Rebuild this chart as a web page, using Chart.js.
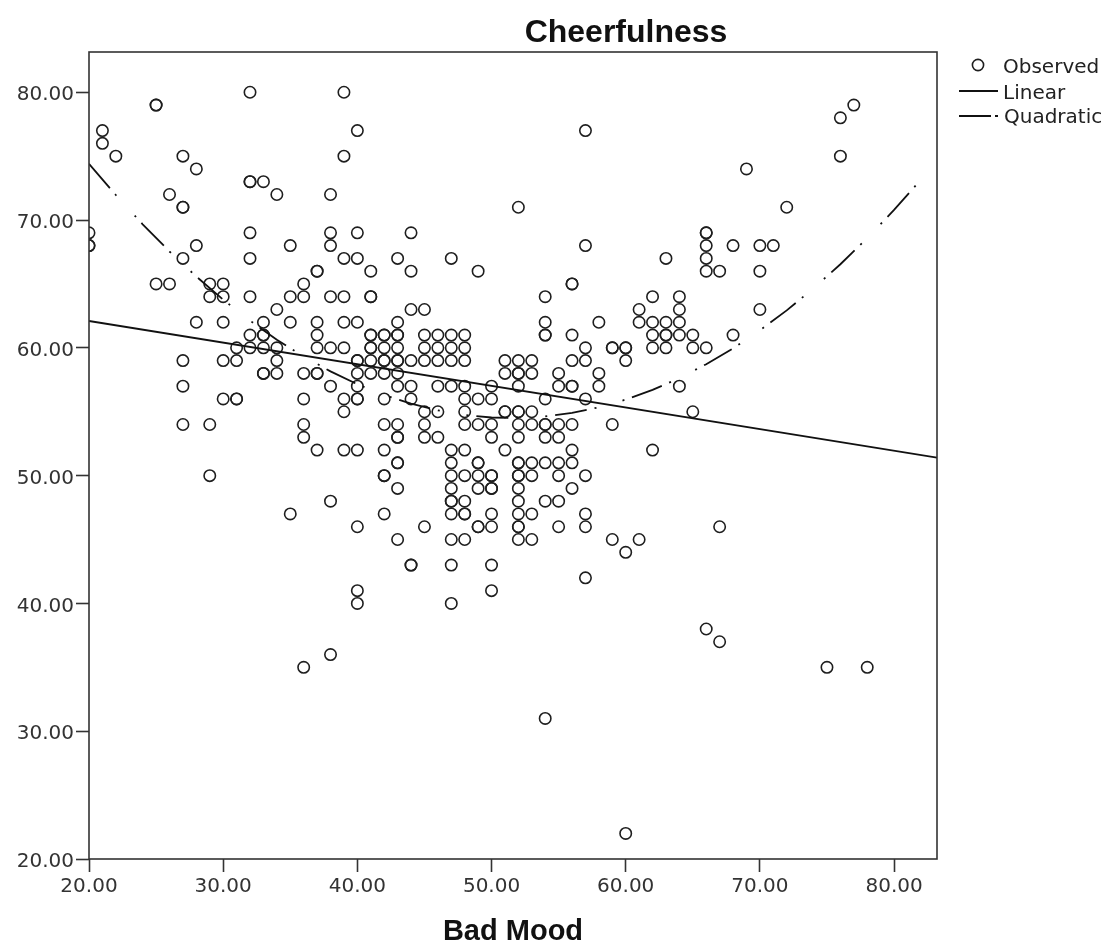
<!DOCTYPE html>
<html>
<head>
<meta charset="utf-8">
<title>Cheerfulness</title>
<script src="https://cdn.jsdelivr.net/npm/chart.js@4.4.1/dist/chart.umd.min.js"></script>
<style>
  html, body { margin: 0; padding: 0; background: #fff; }
  #wrap { width: 1110px; height: 946px; }
</style>
</head>
<body>
<div id="wrap"><canvas id="chart" width="1110" height="946"></canvas></div>
<script>
// observed cases: [Bad Mood, Cheerfulness], one line per Bad Mood score
const observed = [
  [20,69],[20,68],[20,68],
  [21,77],[21,76],
  [22,75],
  [25,79],[25,79],[25,65],
  [26,72],[26,65],
  [27,75],[27,71],[27,71],[27,67],[27,59],[27,57],[27,54],
  [28,74],[28,68],[28,62],
  [29,65],[29,64],[29,54],[29,50],
  [30,65],[30,64],[30,62],[30,59],[30,56],
  [31,60],[31,59],[31,56],[31,56],
  [32,80],[32,73],[32,73],[32,69],[32,67],[32,64],[32,61],[32,60],
  [33,73],[33,62],[33,61],[33,61],[33,60],[33,58],[33,58],
  [34,72],[34,63],[34,60],[34,59],[34,58],
  [35,68],[35,64],[35,62],[35,47],
  [36,65],[36,64],[36,58],[36,56],[36,54],[36,53],[36,35],
  [37,66],[37,66],[37,62],[37,61],[37,60],[37,58],[37,58],[37,52],
  [38,72],[38,69],[38,68],[38,64],[38,60],[38,57],[38,48],[38,36],
  [39,80],[39,75],[39,67],[39,64],[39,62],[39,60],[39,56],[39,55],[39,52],
  [40,77],[40,69],[40,67],[40,62],[40,59],[40,59],[40,58],[40,57],[40,56],[40,56],[40,52],[40,46],[40,41],[40,40],
  [41,66],[41,64],[41,64],[41,61],[41,61],[41,60],[41,60],[41,59],[41,58],
  [42,61],[42,61],[42,60],[42,59],[42,59],[42,58],[42,56],[42,54],[42,52],[42,50],[42,50],[42,47],
  [43,67],[43,62],[43,61],[43,61],[43,60],[43,59],[43,59],[43,58],[43,57],[43,54],[43,53],[43,53],[43,51],[43,51],[43,49],[43,45],
  [44,69],[44,66],[44,63],[44,59],[44,57],[44,56],[44,43],[44,43],
  [45,63],[45,61],[45,60],[45,59],[45,55],[45,54],[45,53],[45,46],
  [46,61],[46,60],[46,59],[46,57],[46,55],[46,53],
  [47,67],[47,61],[47,60],[47,59],[47,57],[47,52],[47,51],[47,50],[47,49],[47,48],[47,48],[47,47],[47,45],[47,43],[47,40],
  [48,61],[48,60],[48,59],[48,57],[48,56],[48,55],[48,54],[48,52],[48,50],[48,48],[48,47],[48,47],[48,45],
  [49,66],[49,56],[49,54],[49,51],[49,51],[49,50],[49,49],[49,46],[49,46],
  [50,57],[50,56],[50,54],[50,53],[50,50],[50,50],[50,49],[50,49],[50,47],[50,46],[50,43],[50,41],
  [51,59],[51,58],[51,55],[51,55],[51,52],
  [52,71],[52,59],[52,58],[52,58],[52,57],[52,55],[52,55],[52,54],[52,53],[52,51],[52,51],[52,50],[52,50],[52,49],[52,48],[52,47],[52,46],[52,46],[52,45],
  [53,59],[53,58],[53,55],[53,54],[53,51],[53,50],[53,47],[53,45],
  [54,64],[54,62],[54,61],[54,61],[54,56],[54,54],[54,54],[54,53],[54,51],[54,48],[54,31],
  [55,58],[55,57],[55,54],[55,53],[55,51],[55,50],[55,48],[55,46],
  [56,65],[56,65],[56,61],[56,59],[56,57],[56,57],[56,54],[56,52],[56,51],[56,49],
  [57,77],[57,68],[57,60],[57,59],[57,56],[57,50],[57,47],[57,46],[57,42],
  [58,62],[58,58],[58,57],
  [59,60],[59,60],[59,54],[59,45],
  [60,60],[60,60],[60,59],[60,44],[60,22],
  [61,63],[61,62],[61,45],
  [62,64],[62,62],[62,61],[62,60],[62,52],
  [63,67],[63,62],[63,61],[63,61],[63,60],
  [64,64],[64,63],[64,62],[64,61],[64,57],
  [65,61],[65,60],[65,55],
  [66,69],[66,69],[66,68],[66,67],[66,66],[66,60],[66,38],
  [67,66],[67,46],[67,37],
  [68,68],[68,61],
  [69,74],
  [70,68],[70,66],[70,63],
  [71,68],
  [72,71],
  [75,35],
  [76,78],[76,75],
  [77,79],
  [78,35]
];

// linear fit, read at the two edges of the plot
const linearMood = [20, 83.2];
const linearCheer = [62.1, 51.4];

// quadratic fit
const quadMood = [20, 22, 24, 26, 28, 30, 32, 34, 36, 38, 40, 42, 44, 46, 48, 50, 52,
  54, 56, 58, 60, 62, 64, 66, 68, 70, 72, 74, 76, 78, 80, 82, 82.3];
const quadCheer = [74.40, 71.96, 69.67, 67.54, 65.58, 63.77, 62.13, 60.64, 59.32, 58.16,
  57.15, 56.31, 55.63, 55.11, 54.75, 54.55, 54.50, 54.63, 54.91, 55.35, 55.95, 56.71,
  57.63, 58.72, 59.96, 61.37, 62.93, 64.66, 66.54, 68.59, 70.79, 73.16, 73.53];

const xTicks = [20, 30, 40, 50, 60, 70, 80];
const yTicks = [20, 30, 40, 50, 60, 70, 80];

const ink = '#1e1e1e';
const tickFont = { family: '"DejaVu Sans", sans-serif', size: 20 };

function zip(xs, ys) {
  return xs.map((x, i) => ({ x: x, y: ys[i] }));
}

// frame, titles and legend
const decorations = {
  id: 'decorations',
  afterDraw(chart) {
    const ctx = chart.ctx;
    const a = chart.chartArea;
    ctx.save();
    ctx.strokeStyle = '#333';
    ctx.lineWidth = 1.6;
    ctx.strokeRect(a.left, a.top, a.right - a.left, a.bottom - a.top);

    ctx.fillStyle = '#111';
    ctx.textAlign = 'center';
    ctx.textBaseline = 'alphabetic';
    ctx.font = 'bold 32px "Liberation Sans", Arial, sans-serif';
    ctx.fillText('Cheerfulness', 626, 42);
    ctx.font = 'bold 29px "Liberation Sans", Arial, sans-serif';
    ctx.fillText('Bad Mood', (a.left + a.right) / 2, 940);

    // legend
    ctx.textAlign = 'left';
    ctx.font = '20px "DejaVu Sans", sans-serif';
    ctx.fillStyle = '#222';
    ctx.strokeStyle = ink;
    ctx.lineWidth = 1.6;
    ctx.beginPath();
    ctx.arc(978, 65, 5.6, 0, Math.PI * 2);
    ctx.stroke();
    ctx.fillText('Observed', 1003, 73);

    ctx.strokeStyle = '#111';
    ctx.lineWidth = 1.8;
    ctx.beginPath();
    ctx.moveTo(959, 91);
    ctx.lineTo(998, 91);
    ctx.stroke();
    ctx.fillText('Linear', 1003, 99);

    ctx.beginPath();
    ctx.moveTo(959, 116);
    ctx.lineTo(991, 116);
    ctx.moveTo(995, 116);
    ctx.lineTo(998, 116);
    ctx.stroke();
    ctx.fillText('Quadratic', 1004, 123);
    ctx.restore();
  }
};

new Chart(document.getElementById('chart'), {
  type: 'scatter',
  data: {
    datasets: [{
      label: 'Observed',
      data: observed.map(p => ({ x: p[0], y: p[1] })),
      pointStyle: 'circle',
      pointRadius: 5.7,
      pointHoverRadius: 5.7,
      pointBorderWidth: 1.6,
      pointBackgroundColor: 'rgba(0,0,0,0)',
      pointBorderColor: ink,
      order: 2
    }, {
      label: 'Linear',
      data: zip(linearMood, linearCheer),
      showLine: true,
      borderColor: '#111',
      borderWidth: 1.8,
      pointRadius: 0,
      order: 1
    }, {
      label: 'Quadratic',
      data: zip(quadMood, quadCheer),
      showLine: true,
      borderColor: '#111',
      borderWidth: 1.8,
      borderDash: [32, 8, 2, 27, 2, 8],
      pointRadius: 0,
      order: 0
    }]
  },
  options: {
    responsive: false,
    animation: false,
    devicePixelRatio: 1,
    layout: { padding: { top: 52, right: 173, left: 0, bottom: 0 } },
    plugins: {
      legend: { display: false },
      tooltip: { enabled: false },
      title: { display: false }
    },
    scales: {
      x: {
        type: 'linear',
        min: 20,
        max: 83.2,
        afterBuildTicks: s => { s.ticks = xTicks.map(v => ({ value: v })); },
        afterFit: s => { s.height = 87; },
        border: { display: false },
        grid: { drawOnChartArea: false, drawTicks: true, tickLength: 13, tickColor: '#333', tickWidth: 1.6 },
        ticks: { font: tickFont, color: '#333', padding: 3, maxRotation: 0,
          callback: v => Number(v).toFixed(2) }
      },
      y: {
        type: 'linear',
        min: 20,
        max: 83.15,
        afterBuildTicks: s => { s.ticks = yTicks.map(v => ({ value: v })); },
        afterFit: s => { s.width = 89; },
        border: { display: false },
        grid: { drawOnChartArea: false, drawTicks: true, tickLength: 13, tickColor: '#333', tickWidth: 1.6 },
        ticks: { font: tickFont, color: '#333', padding: 2, labelOffset: 3,
          callback: v => Number(v).toFixed(2) }
      }
    }
  },
  plugins: [decorations]
});
</script>
</body>
</html>
